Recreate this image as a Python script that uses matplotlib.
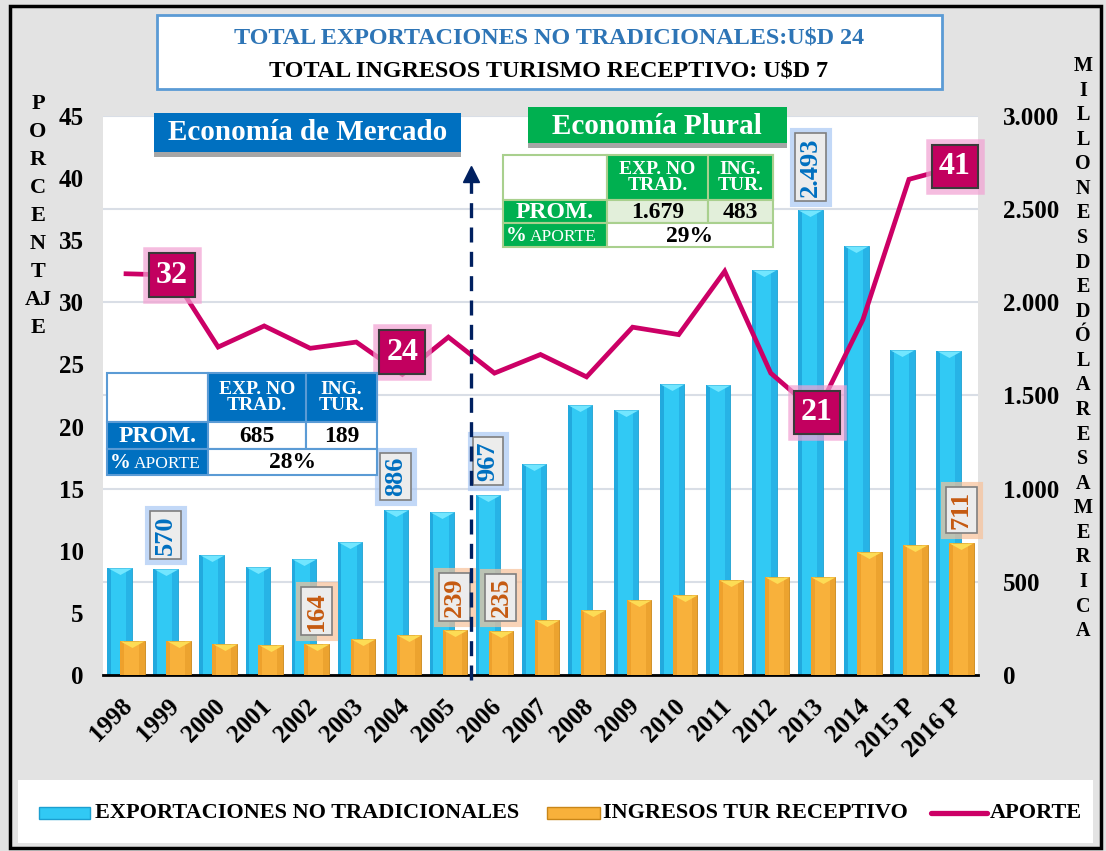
import numpy as np
import matplotlib
matplotlib.use('Agg')
import matplotlib.pyplot as plt
from matplotlib.patches import Rectangle
from matplotlib.lines import Line2D
from matplotlib.transforms import ScaledTranslation
import matplotlib.patheffects as pe

years = ['1998', '1999', '2000', '2001', '2002', '2003', '2004', '2005', '2006', '2007',
         '2008', '2009', '2010', '2011', '2012', '2013', '2014', '2015 P', '2016 P']
exports = [576, 570, 643, 582, 625, 714, 886, 876, 967, 1134,
           1449, 1422, 1561, 1557, 2173, 2493, 2304, 1746, 1737]
tourism = [185, 184, 167, 162, 164, 193, 214, 239, 235, 293,
           347, 401, 427, 508, 527, 527, 660, 697, 711]
aporte = [32.3, 32.2, 26.4, 28.1, 26.3, 26.8, 24.2, 27.2, 24.3, 25.8,
          24.0, 28.0, 27.4, 32.5, 24.3, 21.1, 28.6, 39.9, 40.9]

exp_labeled = [1, 6, 8, 15]
tur_labeled = [4, 7, 8, 18]
apo_labeled = [1, 6, 15, 18]

left_table = [['', 'EXP. NO\nTRAD.', 'ING.\nTUR.'], ['PROM.', '685', '189'], ['%', 'APORTE', '28%']]
right_table = [['', 'EXP. NO\nTRAD.', 'ING.\nTUR.'], ['PROM.', '1.679', '483'], ['%', 'APORTE', '29%']]

SERIF = ['Liberation Serif', 'DejaVu Serif']
plt.rcParams['font.family'] = SERIF
plt.rcParams['font.weight'] = 'bold'

W, H = 1106, 851
BLUE_BAR = '#31c9f4'
ORANGE_BAR = '#f8b13b'
MAGENTA = '#cc0066'

fig = plt.figure(figsize=(W / 100, H / 100), dpi=100, facecolor='#e3e3e3')


def fx(p):
    return p / W


def fy(p):
    return 1 - p / H


def frect(x0, y0, x1, y1, fc, ec='none', lw=0, z=2):
    r = Rectangle((fx(x0), fy(y1)), (x1 - x0) / W, (y1 - y0) / H, transform=fig.transFigure,
                  facecolor=fc, edgecolor=ec, linewidth=lw, zorder=z)
    fig.add_artist(r)
    return r


def ftext(x, y, s, size, color='black', ha='center', va='center', weight='bold', z=6, **kw):
    return fig.text(fx(x), fy(y), s, fontsize=size, color=color, ha=ha, va=va,
                    fontweight=weight, zorder=z, **kw)


# main axes: bars on right scale, line on left scale
ax = fig.add_axes([fx(103), fy(675), (978 - 103) / W, (675 - 116) / H])
ax.set_facecolor('white')
x = np.arange(len(years))
bw = 0.53
top_tri = [(-1, 0), (1, 0), (0, -0.55)]

# cheap bevel look: base bar, dark left/right strips, light triangle on top
ax.bar(x - 0.14, exports, width=bw, color=BLUE_BAR, edgecolor='#1c9fd0', linewidth=0.6, zorder=2)
ax.bar(x - 0.14 - bw / 2 + 0.04, exports, width=0.08, color='#22a9de', linewidth=0, zorder=2)
ax.bar(x - 0.14 + bw / 2 - 0.06, exports, width=0.12, color='#27b3e6', linewidth=0, zorder=2)
ax.plot(x - 0.14, exports, linestyle='none', marker=top_tri, markersize=17,
        color='#72e6ff', markeredgewidth=0, zorder=2)
ax.bar(x + 0.14, tourism, width=bw, color=ORANGE_BAR, edgecolor='#c98618', linewidth=0.6, zorder=3)
ax.bar(x + 0.14 - bw / 2 + 0.04, tourism, width=0.08, color='#eea12c', linewidth=0, zorder=3)
ax.bar(x + 0.14 + bw / 2 - 0.06, tourism, width=0.12, color='#eca32f', linewidth=0, zorder=3)
ax.plot(x + 0.14, tourism, linestyle='none', marker=top_tri, markersize=17,
        color='#fddc55', markeredgewidth=0, zorder=3)

ax.set_xlim(-0.5, len(years) - 0.5)
ax.set_ylim(0, 3000)
rticks = list(range(0, 3001, 500))
ax.set_yticks(rticks)
ax.set_yticklabels([f'{t:,}'.replace(',', '.') for t in rticks])
ax.yaxis.grid(True, color='#d9dee6', linewidth=1.5)
ax.set_axisbelow(True)
for s in ['top', 'left', 'right']:
    ax.spines[s].set_visible(False)
ax.spines['bottom'].set_linewidth(2)
ax.set_xticks(x)
ax.set_xticklabels(years, rotation=45, ha='right', rotation_mode='anchor', fontsize=18)
ax.tick_params(axis='x', length=0, pad=14)
for lbl in ax.get_xticklabels():
    lbl.set_transform(lbl.get_transform() + ScaledTranslation(-0.05, 0, fig.dpi_scale_trans))

for i in exp_labeled:
    t = ax.annotate(f'{exports[i]:,}'.replace(',', '.'), (x[i] - 0.14, exports[i]), xytext=(0, 10),
                    textcoords='offset points', ha='center', va='bottom', rotation=90,
                    fontsize=19, color='#0070c0', zorder=7,
                    bbox=dict(boxstyle='square,pad=0.15', fc='#ececec', ec='#7f7f7f', lw=1.2))
    t.get_bbox_patch().set_path_effects([pe.Stroke(linewidth=8, foreground='#a9c8f5', alpha=0.7), pe.Normal()])
for i in tur_labeled:
    t = ax.annotate(f'{tourism[i]:,}'.replace(',', '.'), (x[i] + 0.14, tourism[i]), xytext=(0, 10),
                    textcoords='offset points', ha='center', va='bottom', rotation=90,
                    fontsize=19, color='#c55a11', zorder=7,
                    bbox=dict(boxstyle='square,pad=0.15', fc='#ececec', ec='#7f7f7f', lw=1.2))
    t.get_bbox_patch().set_path_effects([pe.Stroke(linewidth=8, foreground='#f7c199', alpha=0.7), pe.Normal()])

ax2 = ax.twinx()
ax.yaxis.tick_right()
ax.tick_params(axis='y', length=0, pad=18, labelsize=18)
ax2.yaxis.tick_left()
ax2.set_ylim(0, 45)
ax2.set_yticks(range(0, 46, 5))
ax2.tick_params(axis='y', length=0, pad=14, labelsize=18)
for s in ax2.spines.values():
    s.set_visible(False)
ax2.plot(x, aporte, color=MAGENTA, linewidth=3.4, zorder=4, solid_joinstyle='miter')

# boundary between the two periods
ax2.plot([7.5, 7.5], [-0.4, 40.0], color='#002060', linewidth=2.4, linestyle=(0, (4.5, 2.8)),
         clip_on=False, zorder=5)
ax2.plot([7.5], [40.3], marker='^', markersize=12, color='#002060', clip_on=False, zorder=5)

for i in apo_labeled:
    dy = 1.8 if i == 6 else 0
    t = ax2.text(x[i], aporte[i] + dy, f'{aporte[i]:.0f}', ha='center', va='center', fontsize=23,
                 color='white', zorder=8,
                 bbox=dict(boxstyle='square,pad=0.22', fc='#c2005f', ec='#3a3a3a', lw=1.5))
    t.get_bbox_patch().set_path_effects([pe.Stroke(linewidth=9, foreground='#f2a0d2', alpha=0.7), pe.Normal()])

# outer frame
frect(10, 6, 1101, 848, 'none', ec='black', lw=2.5, z=10)

# title box
frect(157, 15, 942, 89, 'white', ec='#5b9bd5', lw=2)
ftext(549, 38, 'TOTAL EXPORTACIONES NO TRADICIONALES:U$D 24', 17.4, color='#2e75b6')
ftext(549, 71, 'TOTAL INGRESOS TURISMO RECEPTIVO: U$D 7', 17.4)

# period banners
frect(154, 117, 461, 157, '#a6a6a6')
frect(154, 113, 461, 152, '#0070c0')
ftext(308, 133, 'Economía de Mercado', 21, color='white')
frect(528, 111, 787, 148, '#a6a6a6')
frect(528, 107, 787, 143, '#00b050')
ftext(657, 126, 'Economía Plural', 21, color='white')


def draw_table(cells, xs, ys, dark, border, prom_fc):
    # header
    frect(xs[0], ys[0], xs[1], ys[1], 'white', ec=border, lw=1.5)
    frect(xs[1], ys[0], xs[3], ys[1], dark, ec=border, lw=1.5)
    frect(xs[2], ys[0], xs[3], ys[1], dark, ec=border, lw=1.5)
    ftext((xs[1] + xs[2]) / 2, (ys[0] + ys[1]) / 2, cells[0][1], 14, color='white', linespacing=0.9)
    ftext((xs[2] + xs[3]) / 2, (ys[0] + ys[1]) / 2, cells[0][2], 14, color='white', linespacing=0.9)
    # average row
    frect(xs[0], ys[1], xs[1], ys[2], dark, ec=border, lw=1.5)
    frect(xs[1], ys[1], xs[2], ys[2], prom_fc, ec=border, lw=1.5)
    frect(xs[2], ys[1], xs[3], ys[2], prom_fc, ec=border, lw=1.5)
    ftext((xs[0] + xs[1]) / 2, (ys[1] + ys[2]) / 2 + 1, cells[1][0], 17, color='white')
    ftext((xs[1] + xs[2]) / 2, (ys[1] + ys[2]) / 2 + 1, cells[1][1], 17)
    ftext((xs[2] + xs[3]) / 2, (ys[1] + ys[2]) / 2 + 1, cells[1][2], 17)
    # share row
    frect(xs[0], ys[2], xs[1], ys[3], dark, ec=border, lw=1.5)
    frect(xs[1], ys[2], xs[3], ys[3], 'white', ec=border, lw=1.5)
    ym = (ys[2] + ys[3]) / 2 + 1
    ftext(xs[0] + 3, ym, cells[2][0], 15, color='white', ha='left')
    ftext(xs[0] + 27, ym + 1, cells[2][1], 12.5, color='white', ha='left', weight='normal')
    ftext((xs[1] + xs[3]) / 2, ym, cells[2][2], 17)


draw_table(left_table, [107, 208, 306, 377], [373, 422, 449, 475], '#0070c0', '#5b9bd5', 'white')
draw_table(right_table, [503, 607, 708, 773], [155, 200, 223, 247], '#00b050', '#a9d08e', '#e2efda')

# vertical axis titles
for k, ch in enumerate(['P', 'O', 'R', 'C', 'E', 'N', 'T', 'AJ', 'E']):
    ftext(38, 104 + k * 28, ch, 16)
for k, ch in enumerate('MILLONESDEDÓLARESAMERICA'):
    ftext(1083, 66 + k * 24.57, ch, 14.5)

# legend
frect(18, 780, 1093, 843, 'white', z=1)
frect(39, 807, 90, 819, BLUE_BAR, ec='#1c9fd0', lw=1)
ftext(95, 813, 'EXPORTACIONES NO TRADICIONALES', 16, ha='left')
frect(547, 807, 600, 819, ORANGE_BAR, ec='#c98618', lw=1)
ftext(603, 813, 'INGRESOS TUR RECEPTIVO', 16, ha='left')
fig.add_artist(Line2D([fx(931), fx(987)], [fy(813), fy(813)], transform=fig.transFigure,
                      color=MAGENTA, linewidth=3.8, solid_capstyle='round', zorder=3))
ftext(990, 813, 'APORTE', 16, ha='left')

fig.savefig('out.png', dpi=100, facecolor=fig.get_facecolor())
